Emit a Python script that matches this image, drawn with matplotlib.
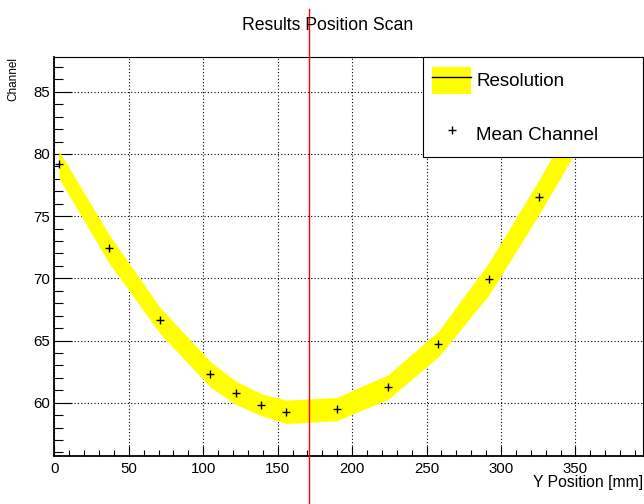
"""
Results of the position scan: mean channel and resolution band vs Y position.
"""

import matplotlib
matplotlib.use("Agg")
import matplotlib.pyplot as plt
from matplotlib.lines import Line2D
from matplotlib.patches import Patch
from matplotlib.legend_handler import HandlerTuple
from matplotlib.ticker import MultipleLocator
import numpy as np


# values
Y_POSITION = [3.0, 36.6, 71.0, 104.7, 121.8, 139.0, 155.8, 189.6, 223.9, 257.9, 292.0, 325.6, 359.5]
MEAN_CHANNEL = [79.17, 72.40, 66.61, 62.29, 60.81, 59.84, 59.27, 59.49, 61.24, 64.71, 69.98, 76.53, 83.6]
RESOLUTION = [1.10, 1.15, 1.05, 1.03, 0.94, 0.88, 0.94, 0.93, 0.99, 1.03, 1.30, 1.40, 1.50]
MARKER_POSITION = 171.0

X_RANGE = (0, 395.6)
Y_RANGE = (55.74, 87.77)


def plot_scan() -> None:
    """
    Draw the resolution band, the mean channel markers and the scan marker line.
    """

    plt.rcParams["font.family"] = ["Liberation Sans", "DejaVu Sans"]

    x = np.array(Y_POSITION)
    y = np.array(MEAN_CHANNEL)
    err = np.array(RESOLUTION)

    fig = plt.figure(figsize=(6.44, 5.04), dpi=100)
    ax = fig.add_axes([54.33 / 644, (504 - 455.7) / 504,
                       (643.3 - 54.33) / 644, (455.7 - 57.3) / 504])

    ax.fill_between(x, y - err, y + err, color="#ffff00", lw=0, zorder=1)
    ax.plot(x, y, "+", color="black", ms=6, mew=1, zorder=3)

    ax.axvline(MARKER_POSITION, ymin=-0.121, ymax=1.12, color="#ff0000",
               lw=1.0, clip_on=False, zorder=4)

    ax.set_xlim(*X_RANGE)
    ax.set_ylim(*Y_RANGE)

    ax.xaxis.set_major_locator(MultipleLocator(50))
    ax.xaxis.set_minor_locator(MultipleLocator(10))
    ax.yaxis.set_major_locator(MultipleLocator(5))
    ax.yaxis.set_minor_locator(MultipleLocator(1))

    ax.tick_params(axis="both", which="both", direction="in",
                   top=False, right=False, width=0.8, labelsize=10.8)
    ax.tick_params(axis="x", which="major", length=7.2, pad=4.3)
    ax.tick_params(axis="x", which="minor", length=4.3)
    ax.tick_params(axis="y", which="major", length=12.6, pad=3)
    ax.tick_params(axis="y", which="minor", length=6.5)

    ax.set_axisbelow(True)
    ax.grid(True, which="major", color="black", linestyle=(0, (1, 2)), linewidth=0.8)

    for side in ["left", "bottom"]:
        ax.spines[side].set_linewidth(1.3)
    for side in ["top", "right"]:
        ax.spines[side].set_linewidth(0.8)

    ax.set_xlabel("Y Position [mm]", fontsize=11.3)
    ax.xaxis.label.set_ha("right")
    ax.xaxis.label.set_va("baseline")
    ax.xaxis.set_label_coords(1.0, -0.0778)

    ax.set_ylabel("Channel", fontsize=8.5)
    ax.yaxis.label.set_ha("right")
    ax.yaxis.label.set_va("center")
    ax.yaxis.set_label_coords(-0.069, 1.0)

    fig.text(0.509, 1 - 30 / 504, "Results Position Scan", fontsize=12.7,
             ha="center", va="baseline")

    handles = [
        (Patch(facecolor="#ffff00", edgecolor="none"), Line2D([], [], color="black", lw=1)),
        Line2D([], [], ls="none", marker="+", color="black", ms=6, mew=1),
    ]
    leg = ax.legend(handles, ["Resolution", "Mean Channel"],
                    handler_map={tuple: HandlerTuple(ndivide=1, pad=0)},
                    loc="upper right", bbox_to_anchor=(0.626, 0.752, 0.374, 0.248),
                    mode="expand", borderaxespad=0, fancybox=False,
                    edgecolor="black", framealpha=1, fontsize=13.5,
                    handlelength=2.08, handleheight=1.87, handletextpad=0.26,
                    borderpad=0.5, labelspacing=1.41)
    leg.get_frame().set_linewidth(0.8)

    fig.savefig("out.png", dpi=100)


if __name__ == "__main__":
    plot_scan()
